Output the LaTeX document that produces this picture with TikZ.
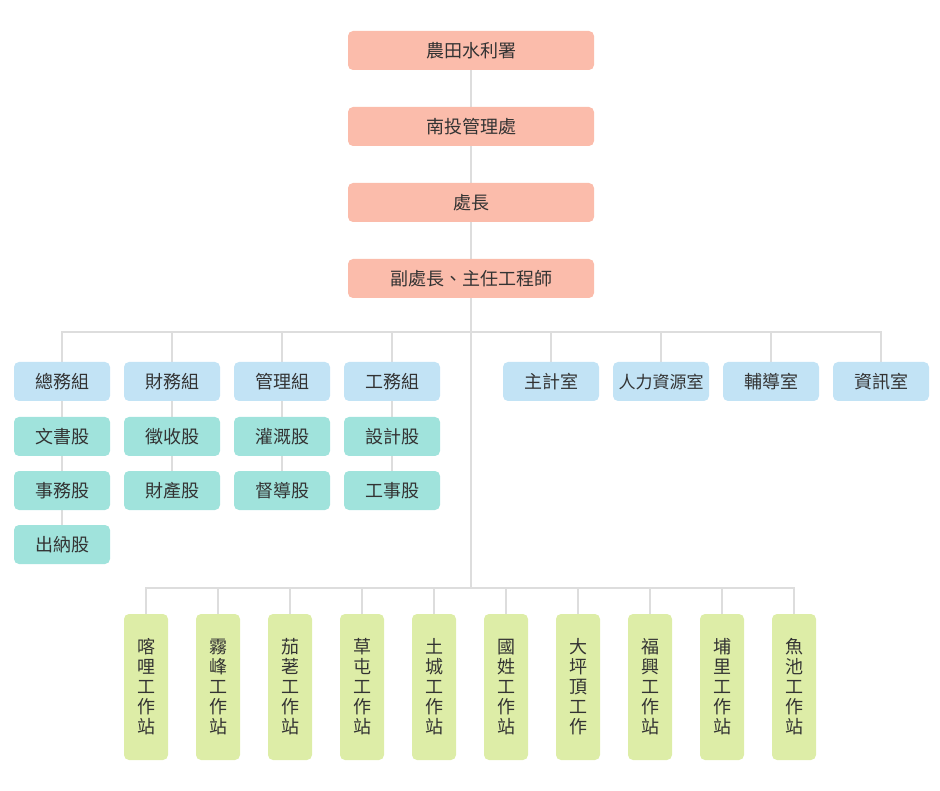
\documentclass[tikz,border=0pt]{standalone}
\usepackage{fontspec}
\newfontfamily\cjk{Noto Sans CJK TC}
\usetikzlibrary{backgrounds}
\definecolor{salmon}{HTML}{FBBCAB}
\definecolor{lblue}{HTML}{C2E3F5}
\definecolor{lteal}{HTML}{A0E3DC}
\definecolor{lgreen}{HTML}{DDEDA7}
\definecolor{linec}{HTML}{DDDDDD}
\definecolor{textc}{HTML}{333333}
\tikzset{
  box/.style={rounded corners=5pt, minimum height=39pt, inner sep=0pt, text=textc, font=\cjk\fontsize{18}{20}\selectfont},
  topbox/.style={box, fill=salmon, minimum width=246pt},
  grpbox/.style={box, fill=lblue, minimum width=96pt},
  secbox/.style={box, fill=lteal, minimum width=96pt},
  stnbox/.style={box, fill=lgreen, minimum width=44pt, minimum height=146pt, align=center},
  conn/.style={draw=linec, line width=1.6pt}
}
\begin{document}
\begin{tikzpicture}[x=1pt,y=-1pt]
\useasboundingbox (0,0) rectangle (940,791);
% top chain
\node[topbox] (n1) at (471,50.5) {農田水利署};
\node[topbox] (n2) at (471,126.5) {南投管理處};
\node[topbox] (n3) at (471,202.5) {處長};
\node[topbox] (n4) at (471,278.5) {副處長、主任工程師};
% groups
\node[grpbox] (g1) at (62,381.5) {總務組};
\node[grpbox] (g2) at (172,381.5) {財務組};
\node[grpbox] (g3) at (282,381.5) {管理組};
\node[grpbox] (g4) at (392,381.5) {工務組};
\node[grpbox] (r1) at (551,381.5) {主計室};
\node[grpbox] (r2) at (661,381.5) {\fontsize{17}{20}\selectfont 人力資源室};
\node[grpbox] (r3) at (771,381.5) {輔導室};
\node[grpbox] (r4) at (881,381.5) {資訊室};
% sections
\node[secbox] (a1) at (62,436.5) {文書股};
\node[secbox] (a2) at (62,490.5) {事務股};
\node[secbox] (a3) at (62,544.5) {出納股};
\node[secbox] (b1) at (172,436.5) {徵收股};
\node[secbox] (b2) at (172,490.5) {財產股};
\node[secbox] (c1) at (282,436.5) {灌溉股};
\node[secbox] (c2) at (282,490.5) {督導股};
\node[secbox] (d1) at (392,436.5) {設計股};
\node[secbox] (d2) at (392,490.5) {工事股};
% stations
\node[stnbox] (s1) at (146,687) {喀\\哩\\工\\作\\站};
\node[stnbox] (s2) at (218,687) {霧\\峰\\工\\作\\站};
\node[stnbox] (s3) at (290,687) {茄\\荖\\工\\作\\站};
\node[stnbox] (s4) at (362,687) {草\\屯\\工\\作\\站};
\node[stnbox] (s5) at (434,687) {土\\城\\工\\作\\站};
\node[stnbox] (s6) at (506,687) {國\\姓\\工\\作\\站};
\node[stnbox] (s7) at (578,687) {大\\坪\\頂\\工\\作};
\node[stnbox] (s8) at (650,687) {福\\興\\工\\作\\站};
\node[stnbox] (s9) at (722,687) {埔\\里\\工\\作\\站};
\node[stnbox] (s10) at (794,687) {魚\\池\\工\\作\\站};
\coordinate (sbus) at (471,588);
\begin{scope}[on background layer]
\draw[conn] (n1) -- (n2);
\draw[conn] (n2) -- (n3);
\draw[conn] (n3) -- (n4);
\draw[conn] (n4.south) -- (sbus);
\draw[conn] (g1.north) -- ++(0,-30) -| (r4.north);
\foreach \g in {g2,g3,g4,r1,r2,r3} \draw[conn] (\g.north) -- ++(0,-30);
\draw[conn] (g1) -- (a1); \draw[conn] (a1) -- (a2); \draw[conn] (a2) -- (a3);
\draw[conn] (g2) -- (b1); \draw[conn] (b1) -- (b2);
\draw[conn] (g3) -- (c1); \draw[conn] (c1) -- (c2);
\draw[conn] (g4) -- (d1); \draw[conn] (d1) -- (d2);
\draw[conn] (s1.north) -- ++(0,-26) -| (s10.north);
\foreach \s in {s2,s3,s4,s5,s6,s7,s8,s9} \draw[conn] (\s.north) -- ++(0,-26);
\end{scope}
\end{tikzpicture}
\end{document}
